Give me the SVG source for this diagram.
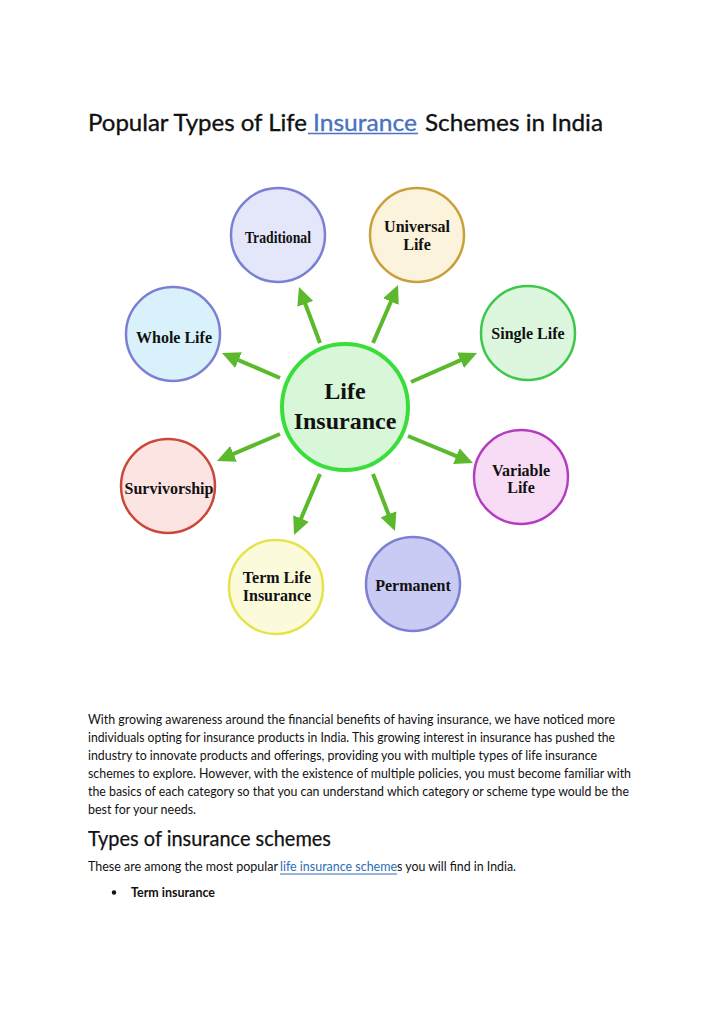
<svg xmlns="http://www.w3.org/2000/svg" width="720" height="1018" viewBox="0 0 720 1018">
<style>
.doc{font-family:Lato,"Open Sans","Liberation Sans",sans-serif;fill:#111}
.title{font-size:24px;stroke:#111;stroke-width:0.35}
.h2{font-size:22px;stroke:#111;stroke-width:0.25}
.body{font-size:13px}
.link{fill:#2e6db5}
.node circle{stroke-width:2.5}
.lbl{font-family:"Liberation Serif","Times New Roman",serif;font-weight:bold;font-size:16px;fill:#111;text-anchor:middle}
.big{font-size:24px}
.arr{stroke:#5cb82c;stroke-width:4;fill:none;marker-end:url(#ah)}
</style>
<defs>
<marker id="ah" markerUnits="userSpaceOnUse" markerWidth="18" markerHeight="17" refX="2" refY="8.5" orient="auto" viewBox="0 0 18 17">
<path d="M0,0 L18,8.5 L0,17 z" fill="#5cb82c"/>
</marker>
</defs>
<rect width="720" height="1018" fill="#fff"/>

<g id="title" class="doc">
<text class="title" x="88" y="130.5" textLength="219" lengthAdjust="spacingAndGlyphs">Popular Types of Life</text>
<text class="title" x="313" y="130.5" textLength="104" lengthAdjust="spacingAndGlyphs" style="fill:#4a72c0;stroke:#4a72c0">Insurance</text>
<line x1="308" y1="133.5" x2="418" y2="133.5" stroke="#4a72c0" stroke-width="1.3"/>
<text class="title" x="425" y="130.5" textLength="178" lengthAdjust="spacingAndGlyphs">Schemes in India</text>
</g>

<g id="connectors">
<line class="arr" x1="320" y1="343" x2="304.6" y2="302"/>
<line class="arr" x1="373" y1="343" x2="391.7" y2="299.7"/>
<line class="arr" x1="280" y1="378" x2="236.7" y2="359.3"/>
<line class="arr" x1="411" y1="382" x2="462.4" y2="359.4"/>
<line class="arr" x1="280" y1="434" x2="231.7" y2="454.7"/>
<line class="arr" x1="408" y1="436" x2="458.2" y2="456.9"/>
<line class="arr" x1="320" y1="474" x2="300.3" y2="520.3"/>
<line class="arr" x1="373" y1="474" x2="389.2" y2="516.1"/>
</g>

<g id="center" class="node">
<circle cx="345" cy="407" r="63" fill="#d8f7d8" stroke="#3ade3a" style="stroke-width:4"/>
<text class="lbl big" x="345" y="399">Life</text>
<text class="lbl big" x="345" y="429">Insurance</text>
</g>

<g id="traditional" class="node">
<circle cx="278" cy="235" r="47" fill="#e4e6fa" stroke="#7c80d2"/>
<text class="lbl" x="278" y="243" textLength="66" lengthAdjust="spacingAndGlyphs">Traditional</text>
</g>

<g id="universal" class="node">
<circle cx="417" cy="235" r="47" fill="#fcf3dc" stroke="#c9a13c"/>
<text class="lbl" x="417" y="232">Universal</text>
<text class="lbl" x="417" y="250">Life</text>
</g>

<g id="whole-life" class="node">
<circle cx="173" cy="334" r="47" fill="#d9f1fb" stroke="#7c80d2"/>
<text class="lbl" x="174" y="343">Whole Life</text>
</g>

<g id="single-life" class="node">
<circle cx="528" cy="333" r="47" fill="#dcf7de" stroke="#3cc84a"/>
<text class="lbl" x="528" y="339">Single Life</text>
</g>

<g id="survivorship" class="node">
<circle cx="168" cy="486" r="47" fill="#fbe4e2" stroke="#c9483a"/>
<text class="lbl" x="169" y="494">Survivorship</text>
</g>

<g id="variable-life" class="node">
<circle cx="521" cy="477" r="47" fill="#f8dcf5" stroke="#b33cc0"/>
<text class="lbl" x="521" y="476">Variable</text>
<text class="lbl" x="521" y="493">Life</text>
</g>

<g id="term-life" class="node">
<circle cx="276" cy="587" r="47" fill="#fbfbdc" stroke="#e4e44a"/>
<text class="lbl" x="277" y="583">Term Life</text>
<text class="lbl" x="277" y="601">Insurance</text>
</g>

<g id="permanent" class="node">
<circle cx="413" cy="584" r="47" fill="#cacbf5" stroke="#7c80d2"/>
<text class="lbl" x="413" y="591">Permanent</text>
</g>

<g id="body" class="doc body">
<text x="88" y="723.5" textLength="527" lengthAdjust="spacingAndGlyphs">With growing awareness around the financial benefits of having insurance, we have noticed more</text>
<text x="88" y="741.5" textLength="527" lengthAdjust="spacingAndGlyphs">individuals opting for insurance products in India. This growing interest in insurance has pushed the</text>
<text x="88" y="759.5" textLength="509" lengthAdjust="spacingAndGlyphs">industry to innovate products and offerings, providing you with multiple types of life insurance</text>
<text x="88" y="777.5" textLength="543" lengthAdjust="spacingAndGlyphs">schemes to explore. However, with the existence of multiple policies, you must become familiar with</text>
<text x="88" y="795.5" textLength="541" lengthAdjust="spacingAndGlyphs">the basics of each category so that you can understand which category or scheme type would be the</text>
<text x="88" y="813.5" textLength="108" lengthAdjust="spacingAndGlyphs">best for your needs.</text>
</g>

<g id="heading" class="doc">
<text class="h2" x="88" y="846" textLength="243" lengthAdjust="spacingAndGlyphs">Types of insurance schemes</text>
</g>

<g id="intro" class="doc body">
<text x="88" y="870.5" textLength="190" lengthAdjust="spacingAndGlyphs">These are among the most popular</text>
<text class="link" x="280" y="870.5" textLength="117" lengthAdjust="spacingAndGlyphs">life insurance scheme</text>
<line x1="280" y1="874" x2="397" y2="874" stroke="#2e6db5" stroke-width="1"/>
<text x="397" y="870.5" textLength="119" lengthAdjust="spacingAndGlyphs">s you will find in India.</text>
</g>

<g id="bullet" class="doc body">
<circle cx="114" cy="892.5" r="2.2" fill="#111"/>
<text x="131" y="897" font-weight="bold" textLength="84" lengthAdjust="spacingAndGlyphs">Term insurance</text>
</g>
</svg>
